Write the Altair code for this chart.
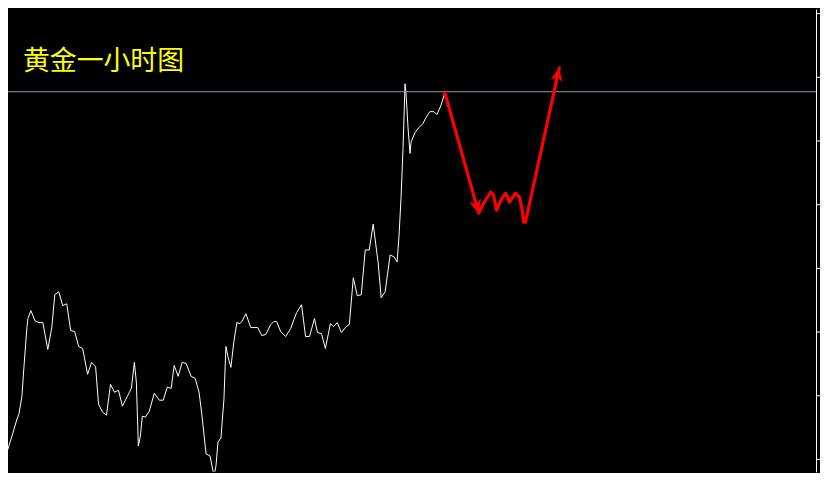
import altair as alt
import pandas as pd

# ---- data (hours since start, price) ----
white_hours = [1.25, 1.75, 3, 4.25, 4.75, 5.5, 6, 6.75, 7, 7.75, 8.75, 9.75, 10.75, 12, 13, 13.75,
               14.75, 15.75, 16.75, 17.75, 18.75, 19.75, 20.75, 22, 23, 24, 24.75, 25.75, 26.75,
               27.75, 28.75, 29.75, 30.75, 32, 33, 33.75, 34.25, 34.75, 35.25, 35.75, 36.5, 37.5,
               38.75, 40, 41, 42, 43, 43.75, 44.75, 45.75, 46.75, 48, 49, 50, 50.75, 51.75, 52.75,
               53.75, 54.25, 54.75, 55.5, 56.25, 56.75, 57.25, 58, 58.75, 59.5, 60.25, 60.75, 61.75,
               63, 64.75, 65.75, 66.75, 68, 68.75, 69.5, 70.5, 71.75, 73, 74.5, 75.75, 76.75, 77.75,
               79, 79.75, 80.75, 81.75, 83, 83.75, 84.75, 85.75, 87, 87.75, 88.75, 89.75, 90.75,
               91.75, 92.75, 93.75, 95, 95.75, 96.75, 98, 99, 99.75, 100.25, 100.75, 101.25, 101.75,
               102, 102.5, 103, 103.25, 104.25, 105.25, 106.25, 107, 108, 109, 109.75, 110.75, 111.75]
white_price = [1900.00, 1907.00, 1911.00, 1915.25, 1916.50, 1921.00, 1928.25, 1938.25, 1940.50,
               1942.50, 1940.00, 1939.50, 1939.50, 1932.75, 1938.25, 1946.50, 1947.25, 1943.75,
               1944.25, 1937.50, 1937.25, 1933.50, 1933.00, 1926.50, 1929.50, 1928.50, 1919.00,
               1917.00, 1916.25, 1924.00, 1922.00, 1922.50, 1918.50, 1921.00, 1923.00, 1929.50,
               1924.50, 1908.50, 1911.00, 1916.00, 1915.75, 1917.25, 1921.75, 1920.00, 1920.00,
               1923.25, 1923.00, 1928.75, 1926.00, 1929.50, 1929.25, 1926.00, 1925.50, 1922.00,
               1916.00, 1906.50, 1906.00, 1901.00, 1903.50, 1909.50, 1910.50, 1920.25, 1933.50,
               1931.00, 1928.25, 1934.75, 1939.50, 1939.25, 1939.75, 1941.75, 1938.25, 1938.25,
               1936.25, 1936.50, 1939.00, 1939.75, 1939.75, 1937.25, 1936.00, 1938.00, 1942.00,
               1944.00, 1936.00, 1936.00, 1940.50, 1937.00, 1936.75, 1933.00, 1939.25, 1938.50,
               1939.50, 1937.00, 1938.50, 1939.00, 1950.75, 1946.25, 1946.50, 1957.75, 1957.75,
               1964.25, 1954.50, 1945.75, 1947.25, 1956.50, 1956.00, 1954.75, 1961.50, 1971.00,
               1983.50, 1999.50, 1997.00, 1988.50, 1982.00, 1984.75, 1987.25, 1988.50, 1989.50,
               1991.00, 1992.50, 1992.50, 1991.75, 1994.00, 1997.25]

# projected path (red)
red_hours = [111.75, 120.25, 121.5, 123.25, 124, 124.75, 126, 127, 128, 129.5, 130.5, 131.25,
             131.5, 132, 140.5]
red_price = [1997.25, 1967.00, 1969.50, 1972.25, 1971.50, 1967.75, 1970.50, 1972.00, 1969.75,
             1972.00, 1971.00, 1967.50, 1964.75, 1964.75, 2003.50]

# arrow tips (hours, price)
tip_hours = [120.25, 140.5]
tip_price = [1967.00, 2003.50]
tip_angle = [164.3, 12.4]

# horizontal level line
level_price = [1997.5]

# right axis tick values
axis_ticks = [1905.25, 1913.25, 1921.25, 1929.25, 1937.25, 1945.25, 1953.25, 1961.25,
              1969.25, 1977.25, 1985.25, 1993.25, 2001.25, 2009.25, 2017.25]

title_text = "黄金一小时图"

# ---- chart ----
W, H = 812, 465
x_scale = alt.Scale(domain=[2, 205], nice=False, zero=False)
y_scale = alt.Scale(domain=[1902, 2018.25], nice=False, zero=False)

white_df = pd.DataFrame({"h": white_hours, "p": white_price, "i": range(len(white_hours))})
red_df = pd.DataFrame({"h": red_hours, "p": red_price, "i": range(len(red_hours))})
tip_df = pd.DataFrame({"h": tip_hours, "p": tip_price, "a": tip_angle})
level_df = pd.DataFrame({"p": level_price})

base_y_axis = alt.Axis(orient="right", values=axis_ticks, labels=False, grid=False,
                       domainColor="#ffffff", tickColor="#ffffff", tickSize=4,
                       domainWidth=1, tickWidth=1, title=None)

white = alt.Chart(white_df).mark_line(color="#ffffff", strokeWidth=1, clip=True).encode(
    x=alt.X("h:Q", scale=x_scale, axis=None),
    y=alt.Y("p:Q", scale=y_scale, axis=base_y_axis),
    order="i:Q",
)

level = alt.Chart(level_df).mark_rule(color="#8a98ac", strokeWidth=1).encode(
    y=alt.Y("p:Q", scale=y_scale),
)

red = alt.Chart(red_df).mark_line(color="#ff0000", strokeWidth=3.2, strokeJoin="round",
                                  strokeCap="round").encode(
    x=alt.X("h:Q", scale=x_scale),
    y=alt.Y("p:Q", scale=y_scale),
    order="i:Q",
)

arrows = alt.Chart(tip_df).mark_point(
    shape="M0,0L-0.5,1.1L0,0.75L0.5,1.1Z", filled=True, size=600, color="#ff0000", opacity=1,
    strokeWidth=0,
).encode(
    x=alt.X("h:Q", scale=x_scale),
    y=alt.Y("p:Q", scale=y_scale),
    angle=alt.Angle("a:Q", scale=None),
)

title = alt.Chart(pd.DataFrame({"t": [title_text]})).mark_text(
    align="left", baseline="alphabetic", fontSize=27, font="Noto Sans CJK SC",
    color="#ffff00",
).encode(text="t:N", x=alt.value(15), y=alt.value(61))

chart = alt.layer(white, level, red, arrows, title).properties(
    width=W, height=H,
    autosize=alt.AutoSizeParams(type="none"),
    padding={"left": 0, "top": 0, "right": 4, "bottom": 0},
    background="#000000",
).configure_view(stroke=None)

chart.save("out.html", embed_options={"renderer": "svg", "actions": False})
